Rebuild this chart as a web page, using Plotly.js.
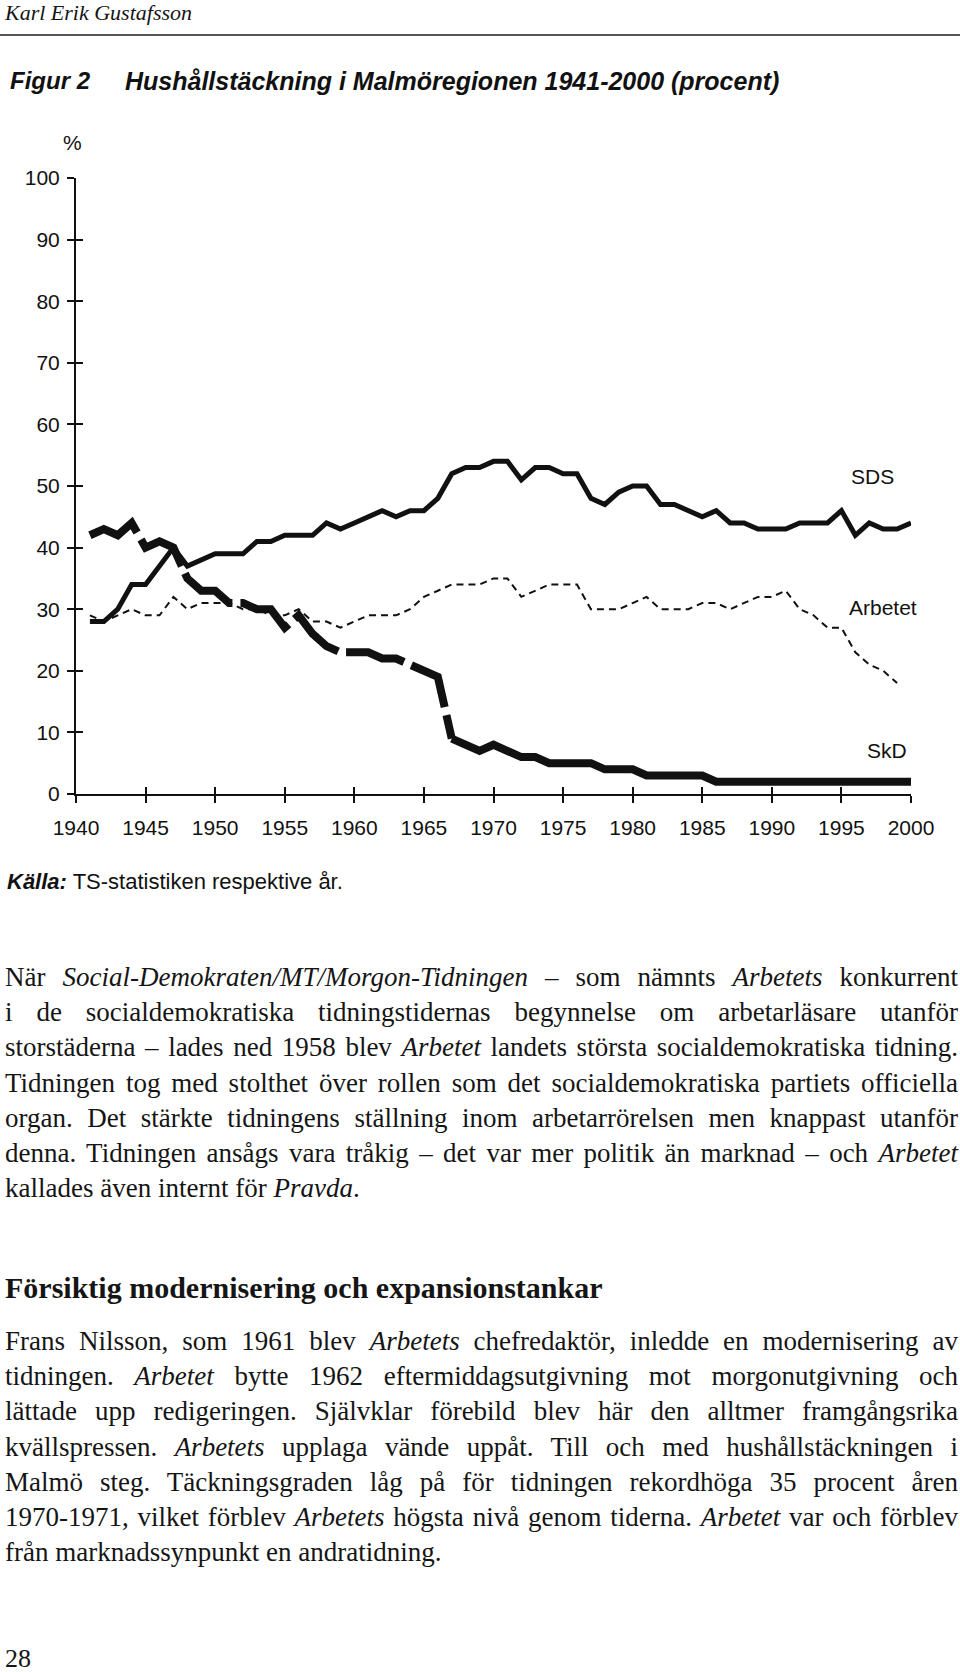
<!DOCTYPE html>
<html>
<head>
<meta charset="utf-8">
<script src="https://cdn.plot.ly/plotly-3.0.1.min.js"></script>
<style>
  html, body { margin: 0; padding: 0; background: #fff; }
  #page { position: relative; width: 960px; height: 1672px; overflow: hidden; background: #fff; }
  #chart { position: absolute; left: 0; top: 0; width: 960px; height: 920px; }
  .txt { position: absolute; left: 5px; width: 953px; font-family: "Liberation Serif", "Times New Roman", serif; color: #151515; z-index: 5; }
  .body { font-size: 27px; line-height: 35.2px; }
  .ln { text-align: justify; text-align-last: justify; }
  .last { text-align: left; text-align-last: left; }
  #header { top: 0px; font-size: 22px; line-height: 26px; font-style: italic; }
  #rule { position: absolute; left: 0; top: 34px; width: 960px; height: 2px; background: #555; z-index: 5; }
  #heading { top: 1270px; font-size: 30px; line-height: 35.2px; font-weight: bold; }
  #p1 { top: 960px; }
  #p2 { top: 1324px; }
  #pageno { top: 1641px; font-size: 26px; line-height: 35.2px; }
</style>
</head>
<body>
<div id="page">
  <div id="chart"></div>
  <div id="header" class="txt">Karl Erik Gustafsson</div>
  <div id="rule"></div>
  <div id="p1" class="txt body">
    <div class="ln">När <i>Social-Demokraten/MT/Morgon-Tidningen</i> – som nämnts <i>Arbetets</i> konkurrent</div>
    <div class="ln">i de socialdemokratiska tidningstidernas begynnelse om arbetarläsare utanför</div>
    <div class="ln">storstäderna – lades ned 1958 blev <i>Arbetet</i> landets största socialdemokratiska tidning.</div>
    <div class="ln">Tidningen tog med stolthet över rollen som det socialdemokratiska partiets officiella</div>
    <div class="ln">organ. Det stärkte tidningens ställning inom arbetarrörelsen men knappast utanför</div>
    <div class="ln">denna. Tidningen ansågs vara tråkig – det var mer politik än marknad – och <i>Arbetet</i></div>
    <div class="last">kallades även internt för <i>Pravda</i>.</div>
  </div>
  <div id="heading" class="txt">Försiktig modernisering och expansionstankar</div>
  <div id="p2" class="txt body">
    <div class="ln">Frans Nilsson, som 1961 blev <i>Arbetets</i> chefredaktör, inledde en modernisering av</div>
    <div class="ln">tidningen. <i>Arbetet</i> bytte 1962 eftermiddagsutgivning mot morgonutgivning och</div>
    <div class="ln">lättade upp redigeringen. Självklar förebild blev här den alltmer framgångsrika</div>
    <div class="ln">kvällspressen. <i>Arbetets</i> upplaga vände uppåt. Till och med hushållstäckningen i</div>
    <div class="ln">Malmö steg. Täckningsgraden låg på för tidningen rekordhöga 35 procent åren</div>
    <div class="ln">1970-1971, vilket förblev <i>Arbetets</i> högsta nivå genom tiderna. <i>Arbetet</i> var och förblev</div>
    <div class="last">från marknadssynpunkt en andratidning.</div>
  </div>
  <div id="pageno" class="txt">28</div>
</div>
<script>
// ---- Data ----
const years = [1941,1942,1943,1944,1945,1946,1947,1948,1949,1950,
               1951,1952,1953,1954,1955,1956,1957,1958,1959,1960,
               1961,1962,1963,1964,1965,1966,1967,1968,1969,1970,
               1971,1972,1973,1974,1975,1976,1977,1978,1979,1980,
               1981,1982,1983,1984,1985,1986,1987,1988,1989,1990,
               1991,1992,1993,1994,1995,1996,1997,1998,1999,2000];

const sdsValues = [28,28,30,34,34,37,40,37,38,39,
                   39,39,41,41,42,42,42,44,43,44,
                   45,46,45,46,46,48,52,53,53,54,
                   54,51,53,53,52,52,48,47,49,50,
                   50,47,47,46,45,46,44,44,43,43,
                   43,44,44,44,46,42,44,43,43,44];

const arbetetYears = [1941,1942,1943,1944,1945,1946,1947,1948,1949,1950,
                      1951,1952,1953,1954,1955,1956,1957,1958,1959,1960,
                      1961,1962,1963,1964,1965,1966,1967,1968,1969,1970,
                      1971,1972,1973,1974,1975,1976,1977,1978,1979,1980,
                      1981,1982,1983,1984,1985,1986,1987,1988,1989,1990,
                      1991,1992,1993,1994,1995,1996,1997,1998,1999];
const arbetetValues = [29,28,29,30,29,29,32,30,31,31,
                       31,30,30,29,29,30,28,28,27,28,
                       29,29,29,30,32,33,34,34,34,35,
                       35,32,33,34,34,34,30,30,30,31,
                       32,30,30,30,31,31,30,31,32,32,
                       33,30,29,27,27,23,21,20,18];

const skdValues = [42,43,42,44,40,41,40,35,33,33,
                   31,31,30,30,27,29,26,24,23,23,
                   23,22,22,21,20,19,9,8,7,8,
                   7,6,6,5,5,5,5,4,4,4,
                   3,3,3,3,3,2,2,2,2,2,
                   2,2,2,2,2,2,2,2,2,2];
const skdDashedUntil = 1967; // dashed drawing before this year, solid after

const xTickVals = [1940,1945,1950,1955,1960,1965,1970,1975,1980,1985,1990,1995,2000];
const yTickVals = [0,10,20,30,40,50,60,70,80,90,100];

const seriesLabels = ['SDS', 'Arbetet', 'SkD'];

// ---- Traces ----
const skdEarlyX = [], skdEarlyY = [], skdLateX = [], skdLateY = [];
years.forEach((y, i) => {
  if (y <= skdDashedUntil) { skdEarlyX.push(y); skdEarlyY.push(skdValues[i]); }
  if (y >= skdDashedUntil) { skdLateX.push(y); skdLateY.push(skdValues[i]); }
});

const black = '#111111';
const traces = [
  { x: years, y: sdsValues, mode: 'lines', name: 'SDS',
    line: { color: black, width: 5 }, hoverinfo: 'x+y+name' },
  { x: skdEarlyX, y: skdEarlyY, mode: 'lines', name: 'SkD',
    line: { color: black, width: 8, dash: '60px,8px' }, hoverinfo: 'x+y+name' },
  { x: skdLateX, y: skdLateY, mode: 'lines', name: 'SkD',
    line: { color: black, width: 8 }, hoverinfo: 'x+y+name' },
  // Arbetet drawn on the twin axes (identical ranges) which carry the inner half of the crossing ticks
  { x: arbetetYears, y: arbetetValues, mode: 'lines', name: 'Arbetet', xaxis: 'x2', yaxis: 'y2',
    line: { color: black, width: 2, dash: '7px,5px' }, hoverinfo: 'x+y+name' }
];

const W = 960, H = 920;
const mL = 76, mR = 49, mT = 178, mB = 126;
const fontAx = { family: 'Liberation Sans, Arial, sans-serif', size: 21, color: black };

const axCommon = {
  showgrid: false, zeroline: false, fixedrange: true,
  tickmode: 'array', tickcolor: black, tickwidth: 2, ticklen: 7
};

const layout = {
  width: W, height: H,
  margin: { l: mL, r: mR, t: mT, b: mB, pad: 0 },
  paper_bgcolor: 'rgba(0,0,0,0)', plot_bgcolor: 'rgba(0,0,0,0)',
  showlegend: false,
  title: {
    text: '<b><i>Hushållstäckning i Malmöregionen 1941-2000 (procent)</i></b>',
    xref: 'container', x: 125 / W, xanchor: 'left',
    yref: 'container', y: 1 - 81 / H, yanchor: 'middle',
    font: { family: 'Liberation Sans, Arial, sans-serif', size: 25, color: black }
  },
  xaxis: Object.assign({}, axCommon, {
    range: [1940, 2000], tickvals: xTickVals, ticktext: xTickVals.map(String),
    showline: true, linecolor: black, linewidth: 2, ticks: 'outside',
    tickfont: fontAx, ticklabelstandoff: 7
  }),
  yaxis: Object.assign({}, axCommon, {
    range: [0, 100], tickvals: yTickVals, ticktext: yTickVals.map(String),
    showline: true, linecolor: black, linewidth: 2, ticks: 'outside',
    tickfont: fontAx, ticklabelstandoff: 3
  }),
  xaxis2: Object.assign({}, axCommon, {
    range: [1940, 2000], tickvals: xTickVals, overlaying: 'x', anchor: 'y2', side: 'bottom',
    showline: false, ticks: 'inside', showticklabels: false
  }),
  yaxis2: Object.assign({}, axCommon, {
    range: [0, 100], tickvals: yTickVals, overlaying: 'y', anchor: 'x2', side: 'left',
    showline: false, ticks: 'inside', showticklabels: false
  }),
  annotations: [
    { text: '<b><i>Figur 2</i></b>', xref: 'paper', yref: 'paper',
      x: (7.5 - mL) / (W - mL - mR), y: (H - mB - 81) / (H - mT - mB),
      xanchor: 'left', yanchor: 'middle', showarrow: false,
      font: { family: 'Liberation Sans, Arial, sans-serif', size: 24, color: black } },
    { text: '%', xref: 'paper', yref: 'paper',
      x: (72.5 - mL) / (W - mL - mR), y: (H - mB - 143) / (H - mT - mB),
      xanchor: 'center', yanchor: 'middle', showarrow: false, font: fontAx },
    { text: seriesLabels[0], xref: 'x', yref: 'y', x: 1997.2, y: 51.5,
      xanchor: 'center', yanchor: 'middle', showarrow: false, font: fontAx },
    { text: seriesLabels[1], xref: 'x', yref: 'y', x: 1998.0, y: 30.2,
      xanchor: 'center', yanchor: 'middle', showarrow: false, font: fontAx },
    { text: seriesLabels[2], xref: 'x', yref: 'y', x: 1998.3, y: 7.1,
      xanchor: 'center', yanchor: 'middle', showarrow: false, font: fontAx },
    { text: '<b><i>Källa:</i></b> TS-statistiken respektive år.', xref: 'paper', yref: 'paper',
      x: (5 - mL) / (W - mL - mR), y: (H - mB - 881) / (H - mT - mB),
      xanchor: 'left', yanchor: 'middle', showarrow: false,
      font: { family: 'Liberation Sans, Arial, sans-serif', size: 22, color: black } }
  ]
};

Plotly.newPlot('chart', traces, layout, { staticPlot: true, displayModeBar: false });
</script>
</body>
</html>
